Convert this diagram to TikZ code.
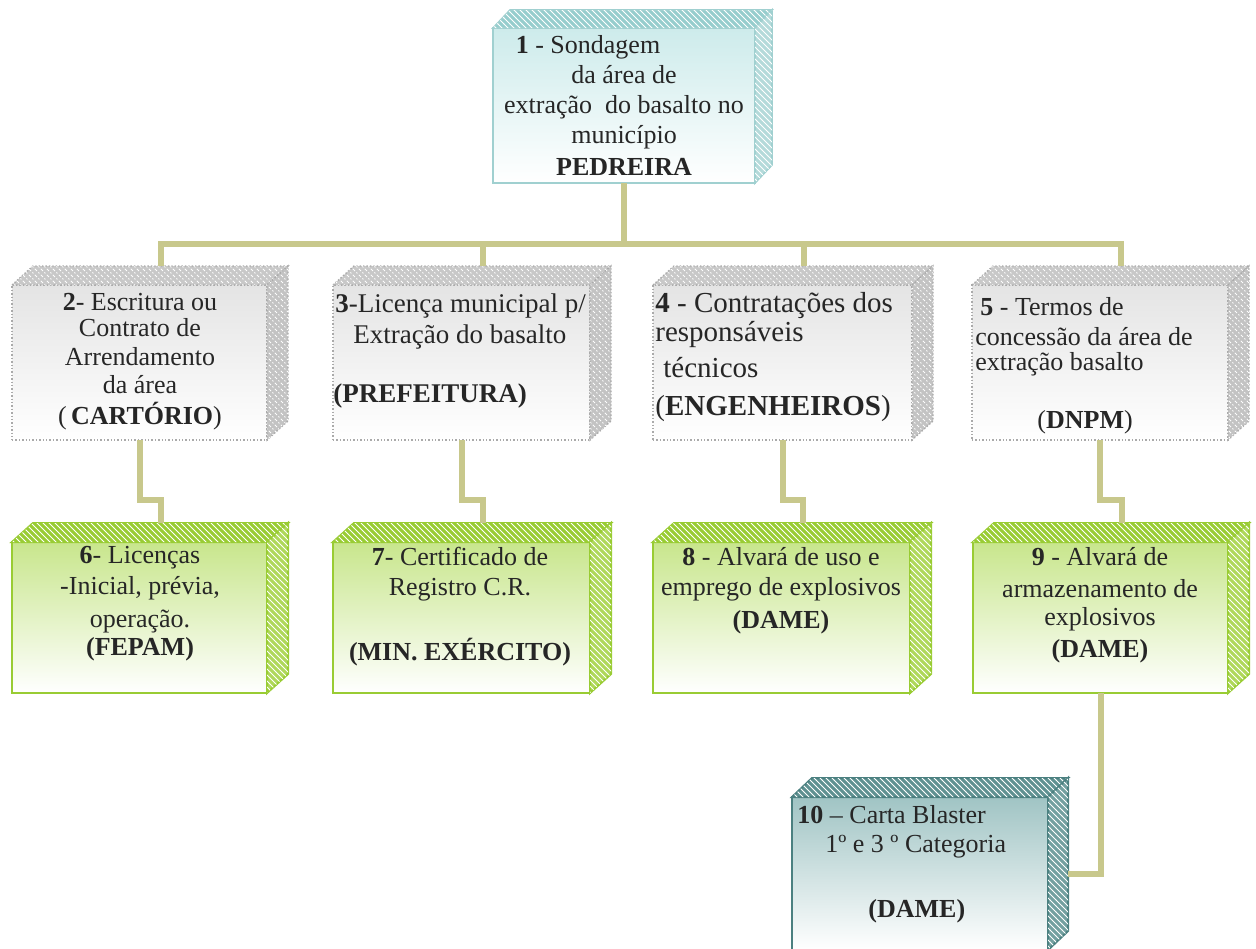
\documentclass[tikz,border=0pt]{standalone}
\usepackage{fontspec}
\setmainfont{Liberation Serif}
\usetikzlibrary{fit,patterns}

\definecolor{conncol}{RGB}{200,200,140}
\definecolor{tealedge}{RGB}{160,208,208}
\definecolor{tealtop}{RGB}{150,205,205}
\definecolor{tealside}{RGB}{180,218,218}
\definecolor{tealfront}{RGB}{205,235,235}
\definecolor{grayedge}{RGB}{170,170,170}
\definecolor{graytop}{RGB}{200,200,200}
\definecolor{grayside}{RGB}{195,195,195}
\definecolor{grayfront}{RGB}{228,228,228}
\definecolor{greenedge}{RGB}{153,204,51}
\definecolor{greentop}{RGB}{153,204,51}
\definecolor{greenside}{RGB}{175,216,90}
\definecolor{greenfront}{RGB}{200,230,140}
\definecolor{dtealedge}{RGB}{75,128,128}
\definecolor{dtealtop}{RGB}{95,145,145}
\definecolor{dtealside}{RGB}{115,160,160}
\definecolor{dtealfront}{RGB}{160,196,196}

\tikzset{
  tealline/.style={line width=0.8pt},
  grayline/.style={line width=0.7pt, densely dotted},
  greenline/.style={line width=1pt},
  dtealline/.style={line width=1pt},
  connector/.style={draw=conncol, line width=3pt, line join=miter},
  txt/.style={font=\fontsize{13}{15}\selectfont, text=black!85, inner sep=0pt},
  hatch/.style={postaction={pattern=north west lines, pattern color=white}}
}

% name, x1, y1, x2, y2, colour prefix, dx, dy
\newcommand\cubebox[8]{%
  \node[fit={(#2,#3)(#4,#5)}, inner sep=0pt, outer sep=0pt,
        top color=#6front, bottom color=white, draw=#6edge, #6line] (#1) {};
  \filldraw[fill=#6top, draw=#6edge, #6line, hatch]
    (#1.north west) -- ++(#7,-#8) -- ([shift={(#7,-#8)}]#1.north east) -- (#1.north east) -- cycle;
  \filldraw[fill=#6side, draw=#6edge, #6line, hatch]
    (#1.north east) -- ++(#7,-#8) -- ([shift={(#7,-#8)}]#1.south east) -- (#1.south east) -- cycle;
  \coordinate (#1-top) at ([shift={(#7,-#8)}]#1.north);
  \coordinate (#1-side) at ([shift={(#7,0)}]#1.east);
}

\begin{document}
\begin{tikzpicture}[x=0.5pt, y=-0.5pt]
\useasboundingbox (0,0) rectangle (1256,948);
\clip (0,0) rectangle (1256,948);
\fill[white] (0,0) rectangle (1256,948);

\cubebox{b1}{493}{28}{755}{183}{teal}{17}{18}
\cubebox{b2}{12}{285}{267}{440}{gray}{21}{19}
\cubebox{b3}{333}{285}{590}{440}{gray}{21}{19}
\cubebox{b4}{653}{285}{912}{440}{gray}{21}{19}
\cubebox{b5}{972}{285}{1228}{440}{gray}{21}{19}
\cubebox{b6}{12}{542}{267}{693}{green}{21}{19}
\cubebox{b7}{333}{542}{590}{693}{green}{21}{19}
\cubebox{b8}{653}{542}{910}{693}{green}{21}{19}
\cubebox{b9}{973}{542}{1228}{693}{green}{21}{19}
\cubebox{b10}{792}{797}{1048}{950}{dteal}{20}{19}

\draw[connector] (b1.south) -- ++(0,61) -| (b2-top);
\draw[connector] (b1.south) -- ++(0,61) -| (b3-top);
\draw[connector] (b1.south) -- ++(0,61) -| (b4-top);
\draw[connector] (b1.south) -- ++(0,61) -| (b5-top);
\draw[connector] (b2.south) -- ++(0,60) -| (b6-top);
\draw[connector] (b3.south) -- ++(0,60) -| (b7-top);
\draw[connector] (b4.south) -- ++(0,60) -| (b8-top);
\draw[connector] (b5.south) -- ++(0,60) -| (b9-top);
\draw[connector] (b9.south) |- (b10-side);

% texts (anchor=base is the baseline of the last line)
\node[txt, align=center, anchor=base] (t1) at (624,175)
  {\textbf{1} - Sondagem\hspace*{36pt}\\ da área de\hspace*{36pt}\\ extração\ \ do basalto no\\ município\\[1pt] \textbf{PEDREIRA}};
\node[txt, align=center, anchor=base] (t2) at (140,424)
  {\textbf{2}- Escritura ou\\[-2pt] Contrato de\\[-0.5pt] Arrendamento\\[-1pt] da área\\[0.5pt] (\,\textbf{CARTÓRIO})};
\node[txt, font=\fontsize{13.5}{15}\selectfont, align=left, anchor=base west] (t3) at (335,402)
  {\textbf{3}-Licença municipal p/\\[0.5pt] \hspace*{9pt}Extração do basalto\\[14.5pt] \hspace*{-1pt}\textbf{(PREFEITURA)}};
\node[txt, font=\fontsize{14.5}{15}\selectfont, align=left, anchor=base west] (t4) at (655,415)
  {\textbf{4} - Contratações dos\\[-0.5pt] responsáveis\\[3pt] \hspace*{4pt}técnicos\\[4pt] (\textbf{ENGENHEIROS})};
\node[txt, align=left, anchor=base west] (t5) at (975,428)
  {\hspace*{2.5pt}\textbf{5} - Termos de\\ concessão da área de\\[-2.5pt] extração basalto\\[14pt] \hspace*{31pt}(\textbf{DNPM})};
\node[txt, align=center, anchor=base] (t6) at (140,655)
  {\textbf{6}- Licenças\\[0.5pt] -Inicial, prévia,\\[1.5pt] operação.\\[-1pt] \textbf{(FEPAM)}};
\node[txt, align=center, anchor=base] (t7) at (460,660)
  {\textbf{7}- Certificado de\\ Registro C.R.\\[17.5pt] \textbf{(MIN. EXÉRCITO)}};
\node[txt, align=center, anchor=base] (t8) at (781,628)
  {\textbf{8} - Alvará de uso e\\ emprego de explosivos\\[1.5pt] \textbf{(DAME)}};
\node[txt, align=center, anchor=base] (t9) at (1100,657)
  {\textbf{9} - Alvará de\\[1pt] armazenamento de\\[-1pt] explosivos\\[1pt] \textbf{(DAME)}};
\node[txt, align=left, anchor=base west] (t10) at (797,917)
  {\textbf{10} – Carta Blaster\\[-0.5pt] \hspace*{14pt}1º e 3 º Categoria\\[17.5pt] \hspace*{35.5pt}\textbf{(DAME)}};
\end{tikzpicture}
\end{document}
